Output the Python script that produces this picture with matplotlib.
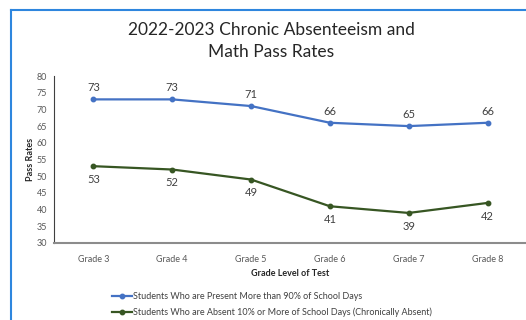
import matplotlib
matplotlib.use("Agg")
import matplotlib.pyplot as plt
from matplotlib.lines import Line2D

categories = ["Grade 3", "Grade 4", "Grade 5", "Grade 6", "Grade 7", "Grade 8"]
present = [73, 73, 71, 66, 65, 66]
absent = [53, 52, 49, 41, 39, 42]
yticks = [30, 35, 40, 45, 50, 55, 60, 65, 70, 75, 80]
title = "2022-2023 Chronic Absenteeism and\nMath Pass Rates"
label_present = "Students Who are Present More than 90% of School Days"
label_absent = "Students Who are Absent 10% or More of School Days (Chronically Absent)"

plt.rcParams['font.family'] = ['Lato', 'DejaVu Sans']

W, H = 526, 320
fig = plt.figure(figsize=(W/100, H/100), dpi=100)
ax = fig.add_axes([54/W, 1-243/H, (527-54)/W, (243-76)/H])

x = list(range(len(categories)))
blue = "#4472C4"
green = "#375623"
ax.plot(x, present, color=blue, lw=1.6, marker='o', ms=3.2, label=label_present)
ax.plot(x, absent, color=green, lw=1.6, marker='o', ms=3.2, label=label_absent)

for xi, v in zip(x, present):
    ax.annotate(str(v), (xi, v), xytext=(0, 4.5), textcoords='offset points',
                ha='center', va='bottom', fontsize=8, color='#404040')
for xi, v in zip(x, absent):
    ax.annotate(str(v), (xi, v), xytext=(0, -5.5), textcoords='offset points',
                ha='center', va='top', fontsize=8, color='#404040')

ax.set_xlim(-0.5, len(categories) - 0.5)
ax.set_ylim(30, 80)
ax.set_yticks(yticks)
ax.set_xticks(x)
ax.set_xticklabels(categories)
ax.tick_params(axis='both', length=0, labelsize=6.5, colors='#595959', pad=5)
ax.tick_params(axis='x', pad=8.5)
for s in ['top', 'right']:
    ax.spines[s].set_visible(False)
ax.spines['left'].set_color('#404040')
ax.spines['left'].set_linewidth(0.8)
ax.spines['bottom'].set_color('#8c8c8c')
ax.spines['bottom'].set_linewidth(1.5)

ax.set_xlabel("Grade Level of Test", fontsize=6.5, fontweight='bold', color='#262626', labelpad=3.5)
ax.set_ylabel("Pass Rates", fontsize=6.5, fontweight='bold', color='#262626', labelpad=1)

fig.text(271/W, 1-41/H, title, ha='center', va='center', fontsize=12.5,
         color='#262626', linespacing=1.4)

leg = fig.legend(loc='upper left', bbox_to_anchor=(112/W, 1-292/H), frameon=False,
                 fontsize=6.5, handlelength=2.2, handletextpad=0.1, labelspacing=0.75,
                 borderaxespad=0, borderpad=0)
for t in leg.get_texts():
    t.set_color('#404040')

border = "#2E86DE"
fig.add_artist(Line2D([11/W, 11/W], [0, 1-10/H], color=border, lw=1.5, transform=fig.transFigure))
fig.add_artist(Line2D([11/W, 1], [1-10/H, 1-10/H], color=border, lw=1.5, transform=fig.transFigure))

fig.savefig("out.png", dpi=100)
